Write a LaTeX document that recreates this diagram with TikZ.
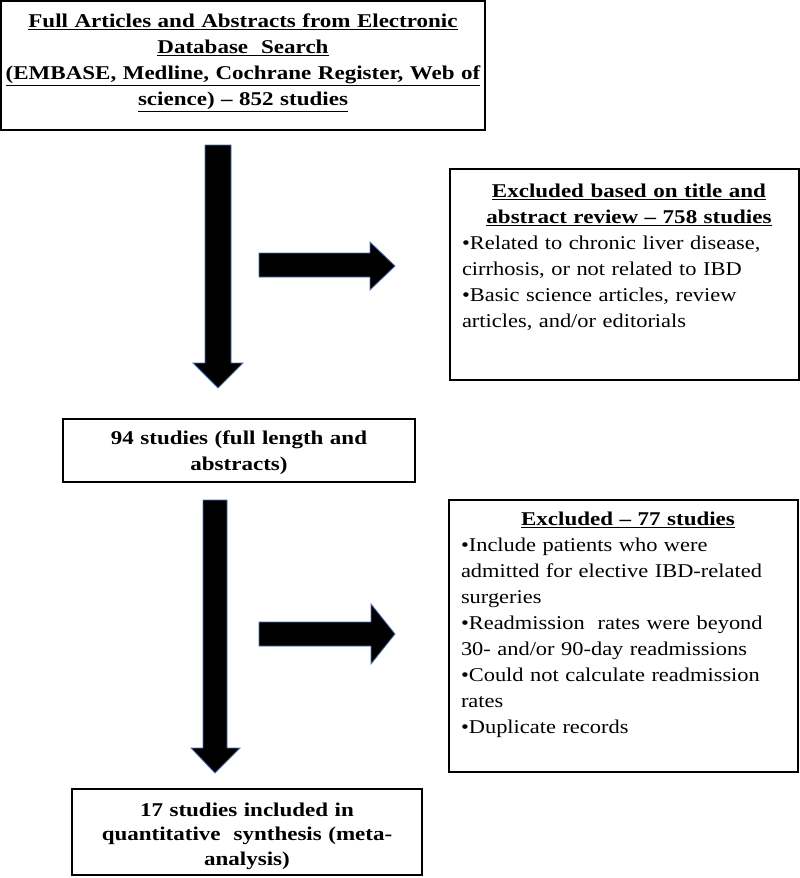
\documentclass[tikz,border=0pt]{standalone}
\usepackage{fontspec}
\setmainfont{Liberation Serif}[FakeStretch=1.15, BoldFeatures={FakeStretch=1.18}]
\definecolor{arrowedge}{RGB}{80,110,180}
\begin{document}
\begin{tikzpicture}[x=1pt,y=-1pt,
  boxn/.style={draw=black, line width=1.6pt, inner sep=0pt},
  txt/.style={inner sep=0pt, anchor=north, font=\fontsize{19.5}{26}\selectfont},
  blk/.style={fill=black, draw=arrowedge, line width=0.8pt, line join=miter}]
\useasboundingbox (0,0) rectangle (800,878);
% boxes
\node[boxn, minimum width=484pt, minimum height=129pt] (b1) at (243,65.5) {};
\node[boxn, minimum width=349pt, minimum height=211pt] (b2) at (624.5,274.5) {};
\node[boxn, minimum width=352pt, minimum height=63pt] (b3) at (239,450.5) {};
\node[boxn, minimum width=349pt, minimum height=272pt] (b4) at (623.5,636) {};
\node[boxn, minimum width=350pt, minimum height=86pt] (b5) at (247,832) {};
% texts
\node[txt, text width=476pt] (t1) at (243,9) {\centering\bfseries\strut
  \underline{Full Articles and Abstracts from Electronic}\\
  \underline{Database\ \ Search}\\
  \underline{(EMBASE, Medline, Cochrane Register, Web of}\\
  \underline{science) – 852 studies}\par};
\node[txt, text width=334pt] (t2) at (629,179) {{\centering\bfseries\strut
  \underline{Excluded based on title and}\\
  \underline{abstract review – 758 studies}\par}
  {\raggedright
  •Related to chronic liver disease,\\
  cirrhosis, or not related to IBD\\
  •Basic science articles, review\\
  articles, and/or editorials\par}};
\node[txt, text width=346pt] (t3) at (239,426) {\centering\bfseries\strut
  94 studies (full length and\\ abstracts)\par};
\node[txt, text width=334pt] (t4) at (628,507) {{\centering\bfseries\strut
  \underline{Excluded – 77 studies}\par}
  {\raggedright
  •Include patients who were\\
  admitted for elective IBD-related\\
  surgeries\\
  •Readmission\ \ rates were beyond\\
  30- and/or 90-day readmissions\\
  •Could not calculate readmission\\
  rates\\
  •Duplicate records\par}};
\node[txt, text width=346pt, font=\fontsize{19.5}{24.5}\selectfont] (t5) at (247,799) {\centering\bfseries\strut
  17 studies included in\\ quantitative\ \ synthesis (meta-\\ analysis)\par};
% block arrows
\draw[blk] (205,145) -- (231,145) -- (231,363) -- (243,363) -- (218,388) -- (193,363) -- (205,363) -- cycle;
\draw[blk] (259,253) -- (370,253) -- (370,242) -- (395,266) -- (370,290) -- (370,277) -- (259,277) -- cycle;
\draw[blk] (203,500) -- (227,500) -- (227,748) -- (240,748) -- (215,773) -- (191,748) -- (203,748) -- cycle;
\draw[blk] (259,622) -- (371,622) -- (371,604) -- (395,634) -- (371,664) -- (371,646) -- (259,646) -- cycle;
\end{tikzpicture}
\end{document}
